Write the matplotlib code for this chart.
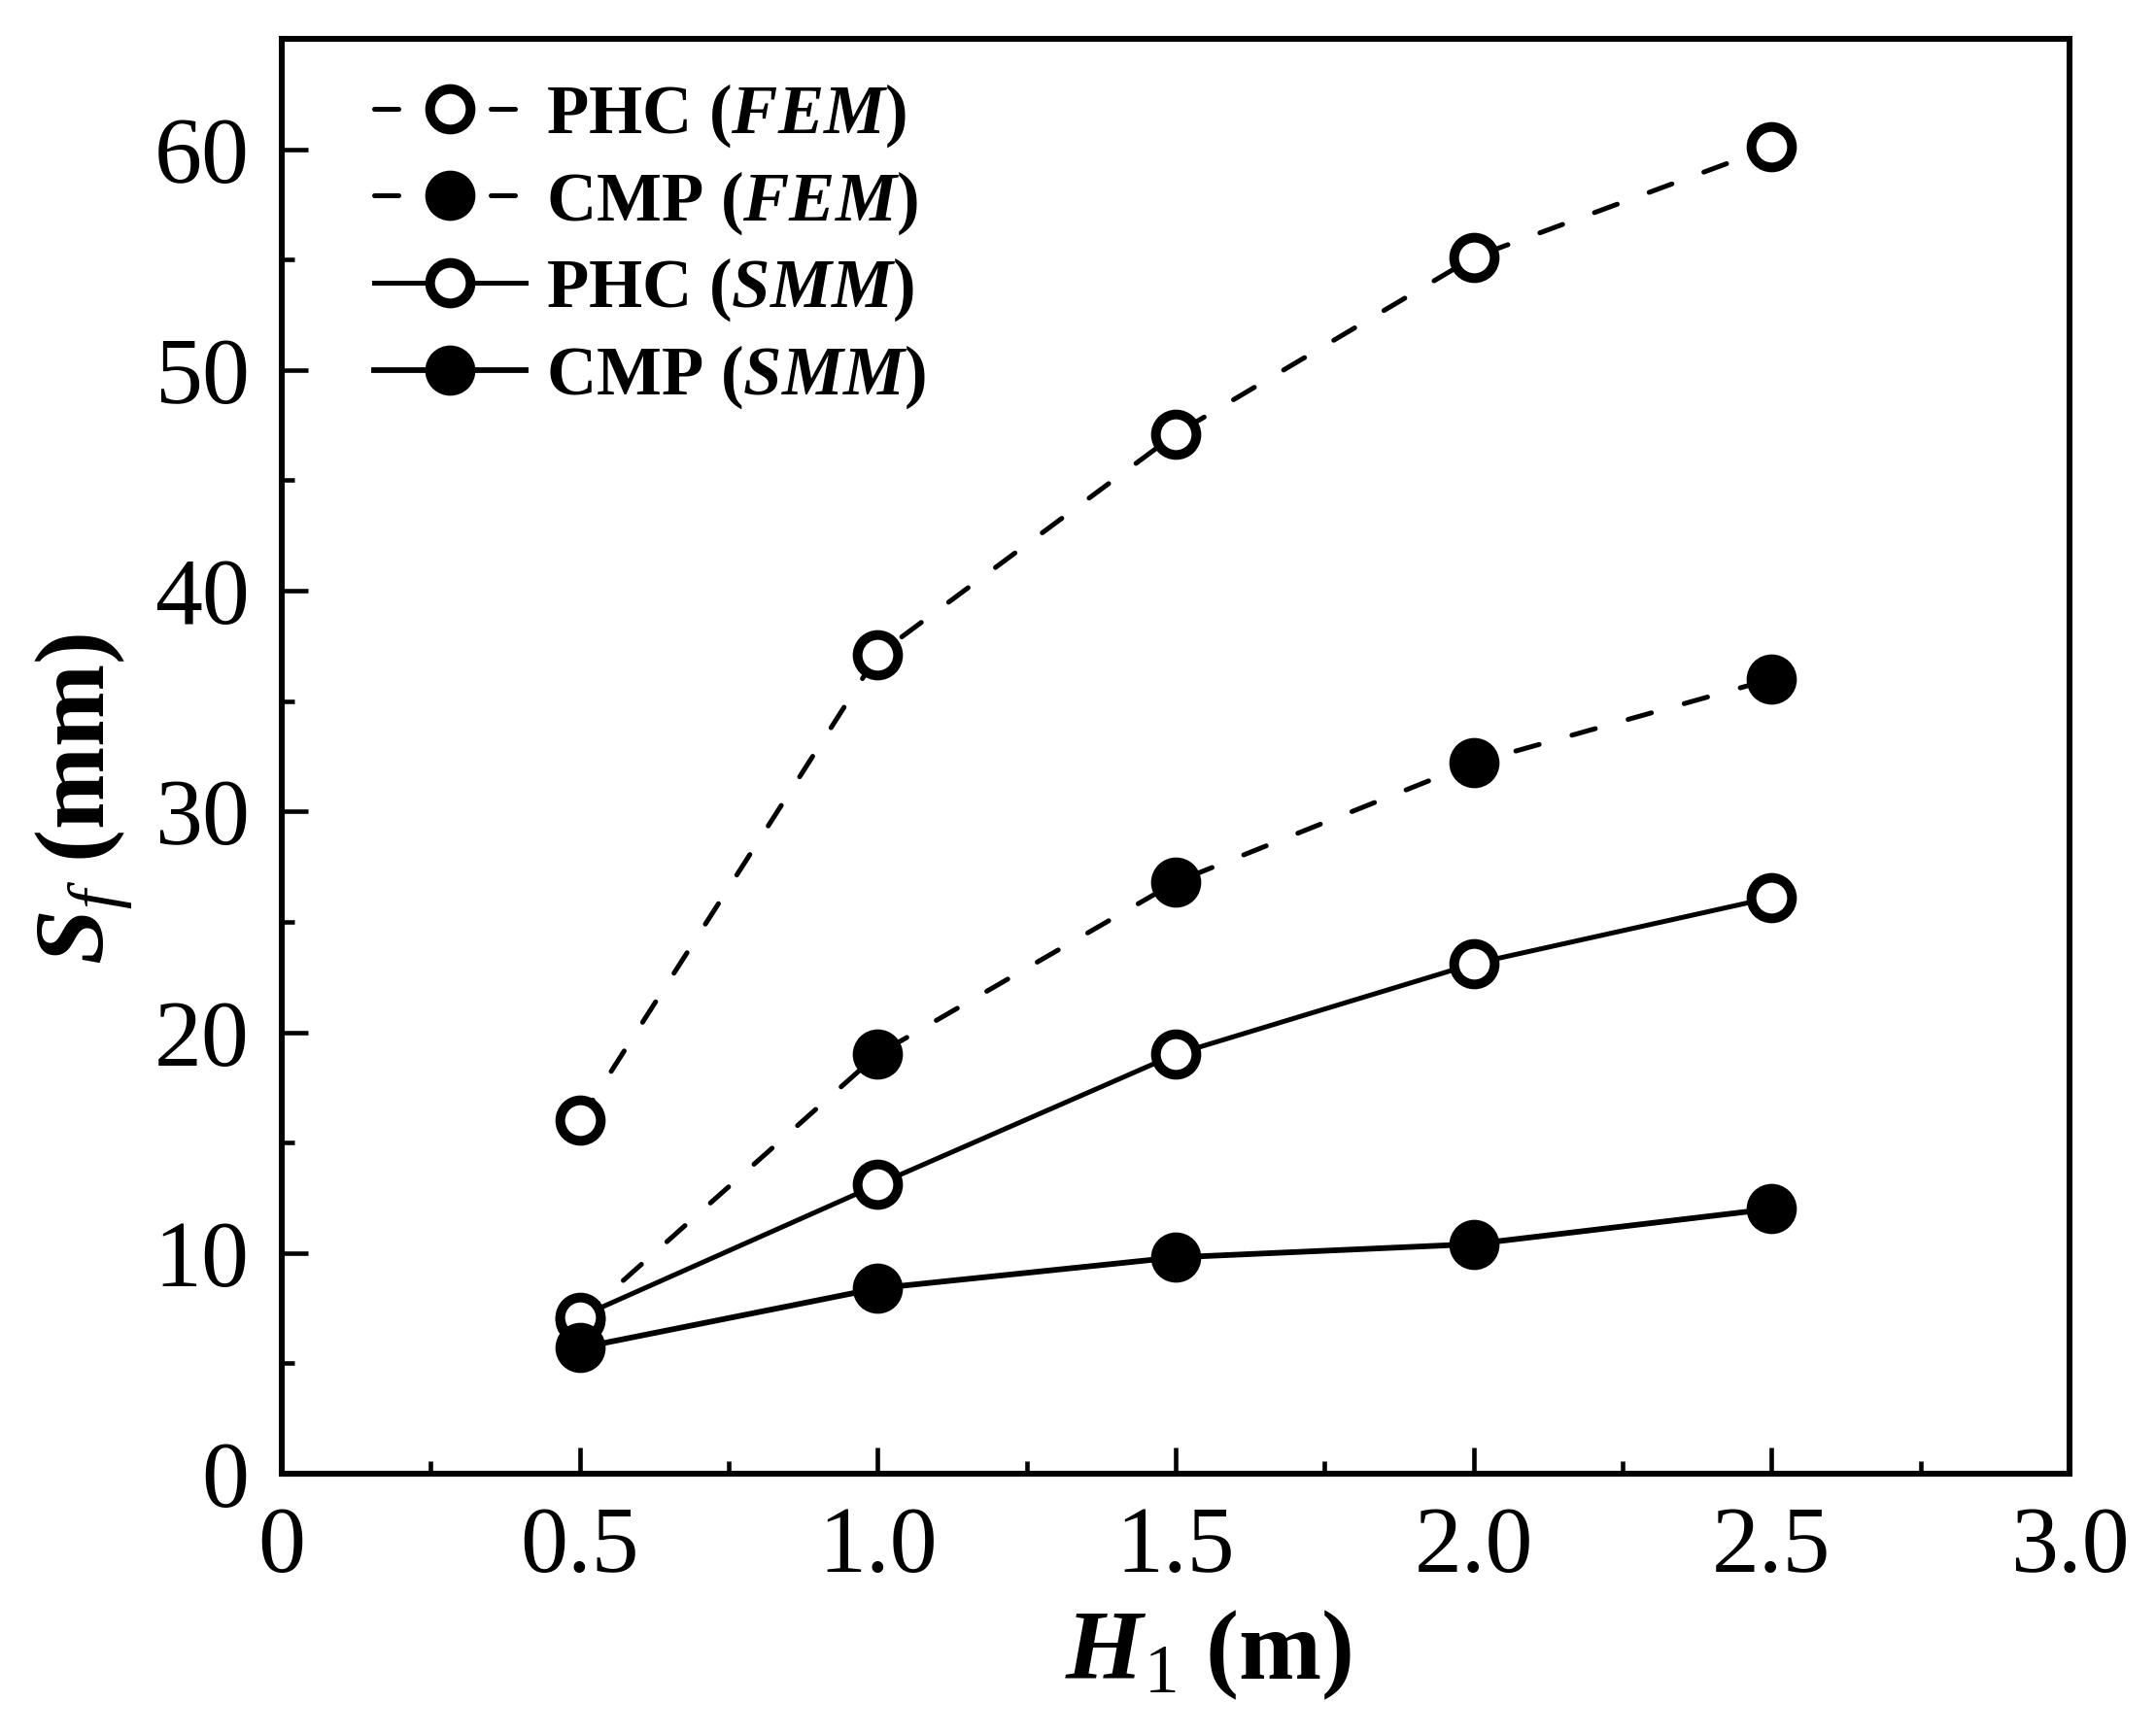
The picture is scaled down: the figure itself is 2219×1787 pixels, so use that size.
import matplotlib
matplotlib.use("Agg")
import matplotlib.pyplot as plt
from matplotlib.ticker import MultipleLocator, FixedLocator

H1 = [0.5, 1.0, 1.5, 2.0, 2.5]
phc_fem = [16.0, 37.1, 47.1, 55.1, 60.1]
cmp_fem = [7.0, 19.0, 26.8, 32.2, 36.0]
phc_smm = [7.1, 13.1, 19.0, 23.1, 26.1]
cmp_smm = [5.7, 8.4, 9.8, 10.4, 12.0]
xticks = [0, 0.5, 1.0, 1.5, 2.0, 2.5, 3.0]
xticklabels = ["0", "0.5", "1.0", "1.5", "2.0", "2.5", "3.0"]

plt.rcParams['font.family'] = ['Liberation Serif', 'DejaVu Serif']
plt.rcParams['mathtext.fontset'] = 'custom'
plt.rcParams['mathtext.rm'] = 'Liberation Serif'
plt.rcParams['mathtext.it'] = 'Liberation Serif:italic'
plt.rcParams['mathtext.bf'] = 'Liberation Serif:bold'
plt.rcParams['mathtext.bfit'] = 'Liberation Serif:bold:italic'

fig = plt.figure(figsize=(2219/300, 1787/300), dpi=300)
ax = fig.add_axes([290/2219, 1-1517/1787, 1840/2219, 1477/1787])

ms = 10
mew = 2.4
dash = (0, (5, 7))
ax.plot(H1, phc_fem, color='k', lw=1.2, linestyle=dash, dash_capstyle='round',
        marker='o', ms=ms, mfc='white', mec='k', mew=mew, label=r'PHC ($\mathbfit{FEM}$)')
ax.plot(H1, cmp_fem, color='k', lw=1.2, linestyle=dash, dash_capstyle='round',
        marker='o', ms=ms, mfc='k', mec='k', mew=mew, label=r'CMP ($\mathbfit{FEM}$)')
ax.plot(H1, phc_smm, color='k', lw=1.2, linestyle='-', marker='o', ms=ms,
        mfc='white', mec='k', mew=mew, label=r'PHC ($\mathbfit{SMM}$)')
ax.plot(H1, cmp_smm, color='k', lw=1.4, linestyle='-', marker='o', ms=ms,
        mfc='k', mec='k', mew=mew, label=r'CMP ($\mathbfit{SMM}$)')

ax.set_xlim(0, 3.0)
ax.set_ylim(0, 65)
ax.xaxis.set_major_locator(FixedLocator(xticks))
ax.set_xticklabels(xticklabels)
ax.xaxis.set_minor_locator(MultipleLocator(0.25))
ax.yaxis.set_major_locator(MultipleLocator(10))
ax.yaxis.set_minor_locator(MultipleLocator(5))

for s in ax.spines.values():
    s.set_linewidth(1.45)
ax.tick_params(which='both', direction='in', top=False, right=False, width=1.1)
ax.tick_params(which='major', length=6.5, labelsize=23.5, pad=8)
ax.tick_params(which='minor', length=3.1)

ax.set_xlabel(r'$\mathbfit{H}_{1}$ (m)', fontsize=24.5, fontweight='bold', labelpad=4)
ax.set_ylabel(r'$\mathbfit{S}_{f}$ (mm)', fontsize=24.5, fontweight='bold', labelpad=5)
ax.xaxis.label.set_x(0.518)
ax.yaxis.label.set_y(0.47)

leg = ax.legend(loc='upper left', bbox_to_anchor=(0.0516, 0.970), frameon=False,
                borderaxespad=0, borderpad=0, handlelength=2.2, handletextpad=0.3,
                labelspacing=0.28, prop={'weight': 'bold', 'size': 17})

fig.savefig("out.png", dpi=300)
